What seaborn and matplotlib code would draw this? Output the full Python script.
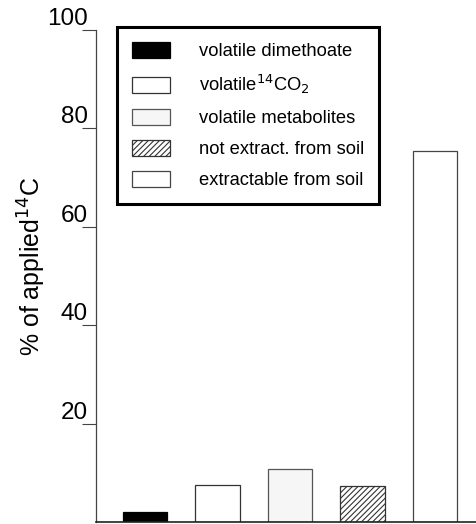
import matplotlib
matplotlib.use("Agg")
import matplotlib.pyplot as plt
from matplotlib.patches import Patch
import seaborn as sns

categories = ["volatile dimethoate", "volatile 14CO2", "volatile metabolites",
              "not extract. from soil", "extractable from soil"]
legend_labels = ["volatile dimethoate", "volatile$^{14}$CO$_2$", "volatile metabolites",
                 "not extract. from soil", "extractable from soil"]
values = [2.0, 7.5, 10.8, 7.3, 75.5]
fills = ["#000000", "#ffffff", "#f6f6f6", "#ffffff", "#ffffff"]
edges = ["#000000", "#333333", "#555555", "#333333", "#444444"]
hatches = ["", "", "", "//////", ""]
yticks = [20, 40, 60, 80, 100]

sns.set_style("white")
plt.rcParams["font.family"] = ["Liberation Sans", "DejaVu Sans"]
plt.rcParams["hatch.linewidth"] = 0.8
plt.rcParams["hatch.color"] = "#333333"
plt.rcParams["text.color"] = "black"
plt.rcParams["axes.labelcolor"] = "black"
plt.rcParams["ytick.labelcolor"] = "black"

fig = plt.figure(figsize=(4.76, 5.24), dpi=100)
ax = fig.add_axes([96 / 476, 2 / 524, 380 / 476, 492 / 524])

sns.barplot(x=categories, y=values, hue=categories, palette=fills, legend=False,
            width=0.61, linewidth=0.9, saturation=1, ax=ax)
for bar, ec, h in zip(ax.patches, edges, hatches):
    bar.set_edgecolor(ec)
    bar.set_hatch(h)

ax.set_xlim(-0.676, 4.566)
ax.set_ylim(0, 100)
ax.set_xticks([])
ax.set_yticks(yticks)
ax.set_yticklabels([str(t) for t in yticks], fontsize=17.5, va="bottom")
ax.tick_params(axis="y", direction="out", length=10, width=0.8, color="#444444",
               pad=-4.3, left=True, labelcolor="black")
for s in ["top", "right"]:
    ax.spines[s].set_visible(False)
ax.spines["left"].set_color("#444444")
ax.spines["left"].set_linewidth(0.9)
ax.spines["bottom"].set_color("#222222")
ax.spines["bottom"].set_linewidth(1.2)

ax.set_ylabel("% of applied$^{14}$C", fontsize=18)
ax.yaxis.set_label_coords(-0.125, 0.52)

handles = [Patch(facecolor=f, edgecolor=e, hatch=h, linewidth=0.9)
           for f, e, h in zip(fills, edges, hatches)]
leg = ax.legend(handles, legend_labels, loc="upper left", bbox_to_anchor=(0.055, 1.006),
                borderaxespad=0, fontsize=13.2, handlelength=2.1, handleheight=0.95,
                handletextpad=1.55, labelspacing=0.7, borderpad=0.82, fancybox=False,
                framealpha=1)
leg.get_frame().set_edgecolor("black")
leg.get_frame().set_linewidth(2.2)

fig.savefig("out.png", dpi=100)
